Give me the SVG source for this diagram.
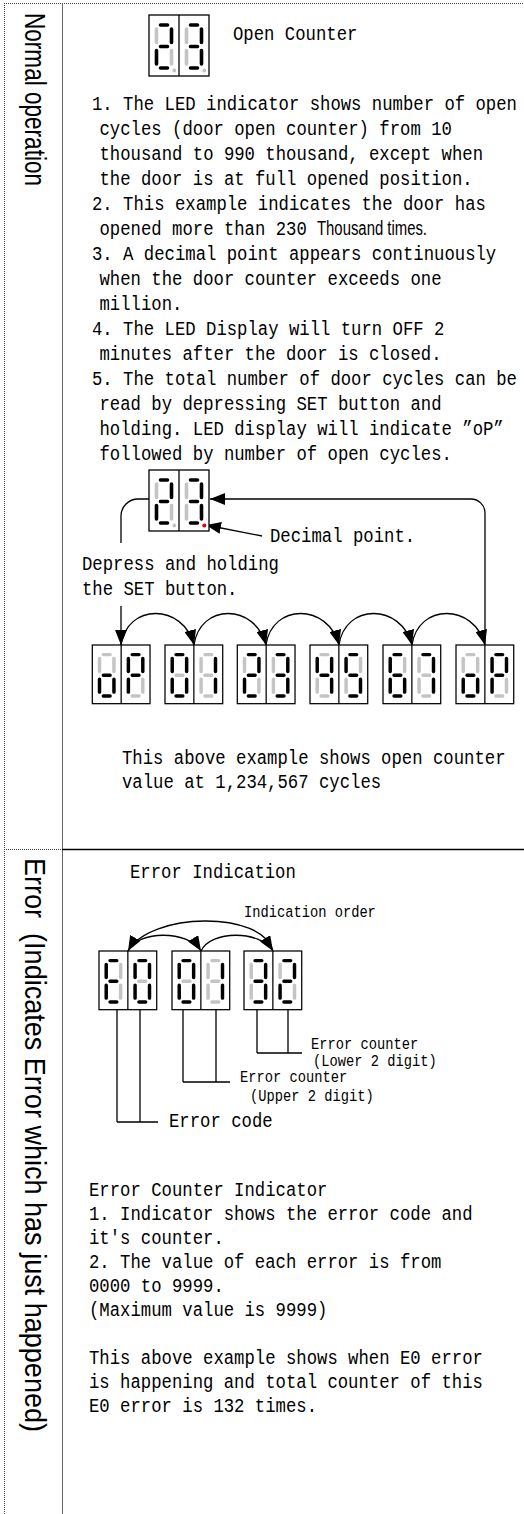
<svg xmlns="http://www.w3.org/2000/svg" width="524" height="1514" viewBox="0 0 524 1514">
<style>
.t text{font-family:"Liberation Mono","DejaVu Sans Mono",monospace;font-size:21px;fill:#000}
.t text.s{font-size:16.7px}
.p{font-family:"Liberation Sans",Arial,sans-serif;font-size:20px;fill:#000}
.lbl{font-family:"Liberation Sans",Arial,sans-serif;font-size:29px;fill:#000}
.on,.off{fill:none;stroke-width:3.6;stroke-linecap:round}
.on{stroke:#000}
.off{stroke:#c4c4c4}
.dpoff{fill:#c4c4c4}
.dpon{fill:#e00000}
.fr{fill:#fff;stroke:#000;stroke-width:1.3}
.c{fill:none;stroke:#000;stroke-width:1.3}
.dot{fill:none;stroke:#444;stroke-width:1;stroke-dasharray:1 1}
.sep{fill:none;stroke:#666;stroke-width:1}
</style>
<defs>
<marker id="ah" markerUnits="userSpaceOnUse" markerWidth="16" markerHeight="12" refX="15" refY="6" orient="auto"><path d="M0 0L15 6L0 12z" fill="#000"/></marker>
<g id="frm"><rect class="fr" x="0" y="0" width="60" height="61"/><path class="c" d="M30 0V61"/></g>
<circle id="dp" cx="25.3" cy="55.5" r="2"/>
<g id="d0"><path class="on" d="M11.5 10H18.5M22.5 14V27.5M22.5 35.5V49M11.5 53H18.5M7.5 35.5V49M7.5 14V27.5"/><path class="off" d="M11.5 31.5H18.5"/></g>
<g id="d1"><path class="on" d="M22.5 14V27.5M22.5 35.5V49"/><path class="off" d="M11.5 10H18.5M11.5 53H18.5M7.5 35.5V49M7.5 14V27.5M11.5 31.5H18.5"/></g>
<g id="d2"><path class="on" d="M11.5 10H18.5M22.5 14V27.5M11.5 53H18.5M7.5 35.5V49M11.5 31.5H18.5"/><path class="off" d="M22.5 35.5V49M7.5 14V27.5"/></g>
<g id="d3"><path class="on" d="M11.5 10H18.5M22.5 14V27.5M22.5 35.5V49M11.5 53H18.5M11.5 31.5H18.5"/><path class="off" d="M7.5 35.5V49M7.5 14V27.5"/></g>
<g id="d4"><path class="on" d="M22.5 14V27.5M22.5 35.5V49M7.5 14V27.5M11.5 31.5H18.5"/><path class="off" d="M11.5 10H18.5M11.5 53H18.5M7.5 35.5V49"/></g>
<g id="d5"><path class="on" d="M11.5 10H18.5M22.5 35.5V49M11.5 53H18.5M7.5 14V27.5M11.5 31.5H18.5"/><path class="off" d="M22.5 14V27.5M7.5 35.5V49"/></g>
<g id="d6"><path class="on" d="M11.5 10H18.5M22.5 35.5V49M11.5 53H18.5M7.5 35.5V49M7.5 14V27.5M11.5 31.5H18.5"/><path class="off" d="M22.5 14V27.5"/></g>
<g id="d7"><path class="on" d="M11.5 10H18.5M22.5 14V27.5M22.5 35.5V49"/><path class="off" d="M11.5 53H18.5M7.5 35.5V49M7.5 14V27.5M11.5 31.5H18.5"/></g>
<g id="do"><path class="on" d="M22.5 35.5V49M11.5 53H18.5M7.5 35.5V49M11.5 31.5H18.5"/><path class="off" d="M11.5 10H18.5M22.5 14V27.5M7.5 14V27.5"/></g>
<g id="dP"><path class="on" d="M11.5 10H18.5M22.5 14V27.5M7.5 35.5V49M7.5 14V27.5M11.5 31.5H18.5"/><path class="off" d="M22.5 35.5V49M11.5 53H18.5"/></g>
<g id="dE"><path class="on" d="M11.5 10H18.5M11.5 53H18.5M7.5 35.5V49M7.5 14V27.5M11.5 31.5H18.5"/><path class="off" d="M22.5 14V27.5M22.5 35.5V49"/></g>
</defs>
<rect x="0" y="0" width="524" height="1514" fill="#fff"/>

<g id="frame">
<path class="dot" d="M4 3.5H524M4.5 3V1514M4 849.5H62"/>
<path class="sep" d="M62.5 3V1514"/>
<path class="c" d="M62 849.5H524"/>
</g>

<g id="side-labels">
<text class="lbl" transform="translate(25,13) rotate(90)" textLength="173" lengthAdjust="spacingAndGlyphs">Normal operation</text>
<text class="lbl" transform="translate(25,858) rotate(90)" textLength="574" lengthAdjust="spacingAndGlyphs">Error&#160; (Indicates Error which has just happened)</text>
</g>

<g id="connectors">
<path class="c" d="M121 645C127 603 183 603 194 645" marker-end="url(#ah)"/>
<path class="c" d="M194 645C200 603 255 603 266 645" marker-end="url(#ah)"/>
<path class="c" d="M266 645C272 603 328 603 339 645" marker-end="url(#ah)"/>
<path class="c" d="M339 645C345 603 401 603 412 645" marker-end="url(#ah)"/>
<path class="c" d="M412 645C418 603 474 603 485 645" marker-end="url(#ah)"/>
<path class="c" d="M485 645V513A14 14 0 0 0 471 499H210" marker-end="url(#ah)"/>
<path class="c" d="M149 499H138A17 17 0 0 0 121 516V543"/>
<path class="c" d="M121 606V645" marker-end="url(#ah)"/>
<path class="c" d="M262 536L206 525" marker-end="url(#ah)"/>
<path class="c" d="M128 951C138 930 188 930 201 951" marker-end="url(#ah)"/>
<path class="c" d="M201 951C211 930 260 930 273 951" marker-end="url(#ah)"/>
<path class="c" d="M273 951C262 910 150 912 128 951" marker-end="url(#ah)"/>
<path class="c" d="M257 1009V1053M288 1009V1053M257 1053H302"/>
<path class="c" d="M183 1009V1082M216 1009V1082M183 1082H230"/>
<path class="c" d="M117 1009V1122M140 1009V1122M117 1122H158"/>
</g>

<g id="disp-top" transform="translate(149,15)">
<use href="#frm"/><use href="#d2"/><use href="#d3" x="30"/>
<use href="#dp" class="dpoff"/><use href="#dp" class="dpoff" x="30"/>
</g>
<g id="disp-mid" transform="translate(149,470)">
<use href="#frm"/><use href="#d2"/><use href="#d3" x="30"/>
<use href="#dp" class="dpoff"/><use href="#dp" class="dpon" x="30"/>
</g>
<g id="disp-op1" transform="translate(92.3,645) scale(0.962)"><use href="#frm"/><use href="#do"/><use href="#dP" x="30"/></g>
<g id="disp-01" transform="translate(165,645) scale(0.962)"><use href="#frm"/><use href="#d0"/><use href="#d1" x="30"/></g>
<g id="disp-23" transform="translate(237.3,645) scale(0.962)"><use href="#frm"/><use href="#d2"/><use href="#d3" x="30"/></g>
<g id="disp-45" transform="translate(310,645) scale(0.962)"><use href="#frm"/><use href="#d4"/><use href="#d5" x="30"/></g>
<g id="disp-67" transform="translate(383,645) scale(0.962)"><use href="#frm"/><use href="#d6"/><use href="#d7" x="30"/></g>
<g id="disp-op2" transform="translate(456,645) scale(0.962)"><use href="#frm"/><use href="#do"/><use href="#dP" x="30"/></g>

<g id="disp-E0" transform="translate(99,951) scale(0.962)"><use href="#frm"/><use href="#dE"/><use href="#d0" x="30"/></g>
<g id="disp-E01" transform="translate(172,951) scale(0.962)"><use href="#frm"/><use href="#d0"/><use href="#d1" x="30"/></g>
<g id="disp-E32" transform="translate(244,951) scale(0.962)"><use href="#frm"/><use href="#d3"/><use href="#d2" x="30"/></g>

<g id="text-normal" class="t">
<text transform="translate(233 40) scale(.823 1)">Open Counter</text>
<text transform="translate(92 110) scale(.823 1)">1. The LED indicator shows number of open</text>
<text transform="translate(99.5 135) scale(.823 1)">cycles (door open counter) from 10</text>
<text transform="translate(99.5 160) scale(.823 1)">thousand to 990 thousand, except when</text>
<text transform="translate(99.5 185) scale(.823 1)">the door is at full opened position.</text>
<text transform="translate(92 210) scale(.823 1)">2. This example indicates the door has</text>
<text transform="translate(99.5 235) scale(.823 1)">opened more than 230</text>
<text transform="translate(92 260) scale(.823 1)">3. A decimal point appears continuously</text>
<text transform="translate(99.5 285) scale(.823 1)">when the door counter exceeds one</text>
<text transform="translate(99.5 310) scale(.823 1)">million.</text>
<text transform="translate(92 335) scale(.823 1)">4. The LED Display will turn OFF 2</text>
<text transform="translate(99.5 360) scale(.823 1)">minutes after the door is closed.</text>
<text transform="translate(92 385) scale(.823 1)">5. The total number of door cycles can be</text>
<text transform="translate(99.5 410) scale(.823 1)">read by depressing SET button and</text>
<text transform="translate(99.5 435) scale(.823 1)">holding. LED display will indicate ”oP”</text>
<text transform="translate(99.5 460) scale(.823 1)">followed by number of open cycles.</text>
<text transform="translate(270 542) scale(.823 1)">Decimal point.</text>
<text transform="translate(82 570) scale(.823 1)">Depress and holding</text>
<text transform="translate(82 595) scale(.823 1)">the SET button.</text>
<text transform="translate(122 764) scale(.823 1)">This above example shows open counter</text>
<text transform="translate(122 788) scale(.823 1)">value at 1,234,567 cycles</text>
</g>
<text class="p" x="317" y="235" textLength="110" lengthAdjust="spacingAndGlyphs">Thousand times.</text>

<g id="text-error" class="t">
<text transform="translate(130 878) scale(.823 1)">Error Indication</text>
<text class="s" transform="translate(244 917) scale(.823 1)">Indication order</text>
<text class="s" transform="translate(311 1049) scale(.823 1)">Error counter</text>
<text class="s" transform="translate(313 1066) scale(.823 1)">(Lower 2 digit)</text>
<text class="s" transform="translate(240 1082) scale(.823 1)">Error counter</text>
<text class="s" transform="translate(250 1101) scale(.823 1)">(Upper 2 digit)</text>
<text transform="translate(169 1127) scale(.823 1)">Error code</text>
<text transform="translate(89 1196) scale(.823 1)">Error Counter Indicator</text>
<text transform="translate(89 1220) scale(.823 1)">1. Indicator shows the error code and</text>
<text transform="translate(89 1244) scale(.823 1)">it's counter.</text>
<text transform="translate(89 1268) scale(.823 1)">2. The value of each error is from</text>
<text transform="translate(89 1292) scale(.823 1)">0000 to 9999.</text>
<text transform="translate(89 1316) scale(.823 1)">(Maximum value is 9999)</text>
<text transform="translate(89 1364) scale(.823 1)">This above example shows when E0 error</text>
<text transform="translate(89 1388) scale(.823 1)">is happening and total counter of this</text>
<text transform="translate(89 1412) scale(.823 1)">E0 error is 132 times.</text>
</g>
</svg>
